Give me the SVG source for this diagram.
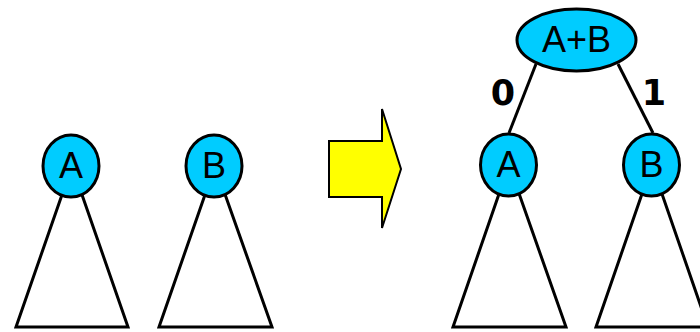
<svg xmlns="http://www.w3.org/2000/svg" width="700" height="332" viewBox="0 0 700 332">
<style>
.tri{fill:#fff;stroke:#000;stroke-width:3;stroke-linejoin:miter}
.node{fill:#00ccff;stroke:#000;stroke-width:3}
.lbl{font-family:"Liberation Sans",Arial,sans-serif;font-size:36px;fill:#000;text-anchor:middle}
.edge{stroke:#000;stroke-width:3;fill:none}
.elbl{font-family:"DejaVu Sans",Verdana,sans-serif;font-weight:bold;font-size:35px;fill:#000;text-anchor:middle}
</style>
<rect width="700" height="332" fill="#fff"/>
<g id="treeA">
<polygon class="tri" points="72,166 16,327 128,327"/>
<ellipse class="node" cx="71" cy="166" rx="28" ry="31"/>
<text class="lbl" x="71" y="178">A</text>
</g>
<g id="treeB">
<polygon class="tri" points="215,166 159,327 272,327"/>
<ellipse class="node" cx="214" cy="166" rx="28" ry="31"/>
<text class="lbl" x="214" y="178">B</text>
</g>
<g id="arrow">
<polygon points="329,141 382,141 382,109 401,169 382,228 382,197 329,197" fill="#ffff00" stroke="#000" stroke-width="2"/>
</g>
<g id="connectors">
<line class="edge" x1="536" y1="64" x2="509" y2="133"/>
<line class="edge" x1="618" y1="64" x2="653" y2="133"/>
<text class="elbl" x="503" y="105">0</text>
<text class="elbl" x="654" y="105">1</text>
</g>
<g id="root">
<ellipse class="node" cx="576.5" cy="40" rx="59.5" ry="31"/>
<text class="lbl" x="576.5" y="52">A+B</text>
</g>
<g id="treeA2">
<polygon class="tri" points="509,165 453,327 566,327"/>
<ellipse class="node" cx="508.5" cy="165" rx="28" ry="31"/>
<text class="lbl" x="508.5" y="177">A</text>
</g>
<g id="treeB2">
<polygon class="tri" points="652,165 596,327 708,327"/>
<ellipse class="node" cx="651.5" cy="165" rx="28" ry="31"/>
<text class="lbl" x="651.5" y="177">B</text>
</g>
</svg>
